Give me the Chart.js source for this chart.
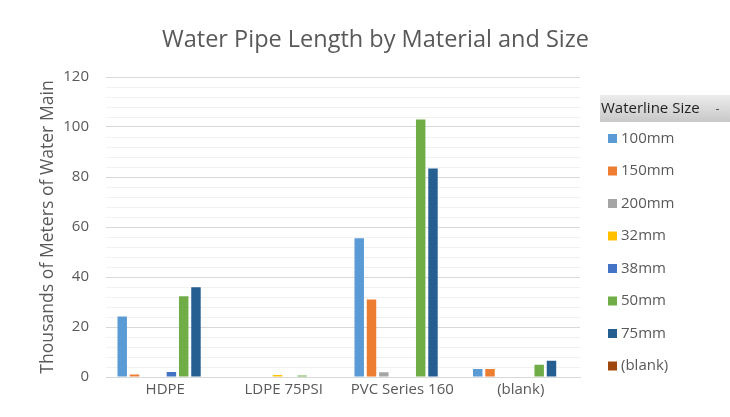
<!DOCTYPE html>
<html>
<head>
<meta charset="utf-8">
<script src="https://cdn.jsdelivr.net/npm/chart.js@4/dist/chart.umd.min.js"></script>
<style>
  html, body { margin: 0; padding: 0; background: #ffffff; }
  #wrap { position: relative; width: 730px; height: 417px; }
</style>
</head>
<body>
<div id="wrap"><canvas id="c" width="730" height="417"></canvas></div>
<script>
// Pipe materials along the x axis
const materials = ['HDPE', 'LDPE 75PSI', 'PVC Series 160', '(blank)'];

// Waterline sizes (one series each), lengths in thousands of metres
const sizeLabels = ['100mm', '150mm', '200mm', '32mm', '38mm', '50mm', '75mm', '(blank)'];
const len100mm = [24.2, null, 55.5, 3.2];
const len150mm = [1.0, null, 31.0, 3.2];
const len200mm = [null, null, 1.9, null];
const len32mm  = [null, 0.8, null, null];
const len38mm  = [2.0, null, null, null];
const len50mm  = [32.3, 0.6, 103.0, 4.9];
const len75mm  = [35.9, null, 83.4, 6.5];
const lenBlank = [null, null, null, null];

const sizeColors = ['#5B9BD5', '#ED7D31', '#A5A5A5', '#FFC000', '#4472C4', '#70AD47', '#255E91', '#9E480E'];
const seriesValues = [len100mm, len150mm, len200mm, len32mm, len38mm, len50mm, len75mm, lenBlank];

// Y axis: labelled every 20, light minor lines every 4
const yMax = 120;
const yMinorStep = 4;
const yMajorStep = 20;

const chartTitle = 'Water Pipe Length by Material and Size';
const yTitle = 'Thousands of Meters of Water Main';
const legendTitle = 'Waterline Size';

const FONT = '"Open Sans", "DejaVu Sans", sans-serif';
const TEXT = '#595959';

const datasets = sizeLabels.map((name, i) => ({
  label: name,
  data: seriesValues[i],
  backgroundColor: sizeColors[i],
  borderWidth: 0,
  categoryPercentage: 0.83,
  barPercentage: 0.77
}));

// Chart title and the size legend with its header bar
const decorations = {
  id: 'decorations',
  afterDraw(chart) {
    const ctx = chart.ctx;
    ctx.save();
    ctx.fillStyle = TEXT;
    ctx.font = '23.5px ' + FONT;
    ctx.textAlign = 'center';
    ctx.textBaseline = 'middle';
    ctx.fillText(chartTitle, 375.5, 40);

    // header bar
    const g = ctx.createLinearGradient(0, 95, 0, 122);
    g.addColorStop(0, '#ececec');
    g.addColorStop(1, '#c8c8c8');
    ctx.fillStyle = g;
    ctx.fillRect(600, 95, 130, 27);
    ctx.fillStyle = '#1f1f1f';
    ctx.font = '15px ' + FONT;
    ctx.textAlign = 'left';
    ctx.fillText(legendTitle, 601, 109);
    ctx.fillStyle = '#555555';
    ctx.fillRect(716, 109, 3, 1);

    // items
    chart.data.datasets.forEach((ds, i) => {
      const y = 138.5 + i * 32.5;
      ctx.fillStyle = ds.backgroundColor;
      ctx.fillRect(608, y - 4.5, 9, 9);
      ctx.fillStyle = TEXT;
      ctx.font = '15px ' + FONT;
      ctx.fillText(ds.label, 621, y);
    });
    ctx.restore();
  }
};

new Chart(document.getElementById('c'), {
  type: 'bar',
  data: { labels: materials, datasets },
  options: {
    responsive: false,
    animation: false,
    layout: { padding: { left: 0, right: 150, top: 77, bottom: 0 } },
    plugins: { legend: { display: false }, title: { display: false }, tooltip: { enabled: false } },
    scales: {
      x: {
        grid: { display: false, drawTicks: false },
        border: { display: true, color: '#d9d9d9', width: 1 },
        ticks: { color: TEXT, font: { family: FONT, size: 15 }, padding: 4, maxRotation: 0 },
        afterFit(scale) { scale.height = 40; }
      },
      y: {
        min: 0,
        max: yMax,
        grid: {
          drawTicks: false,
          color: (c) => (c.tick && c.tick.value % yMajorStep === 0) ? '#d9d9d9' : '#f1f1f1',
          lineWidth: 1
        },
        border: { display: false },
        ticks: {
          stepSize: yMinorStep,
          autoSkip: false,
          color: TEXT,
          font: { family: FONT, size: 15 },
          padding: 17,
          callback: (v) => (v % yMajorStep === 0 ? String(v) : '')
        },
        title: {
          display: true,
          text: yTitle,
          color: TEXT,
          font: { family: FONT, size: 17.6 },
          padding: { top: 37, bottom: 0 }
        },
        afterFit(scale) { scale.width = 106; }
      }
    }
  },
  plugins: [decorations]
});
</script>
</body>
</html>
